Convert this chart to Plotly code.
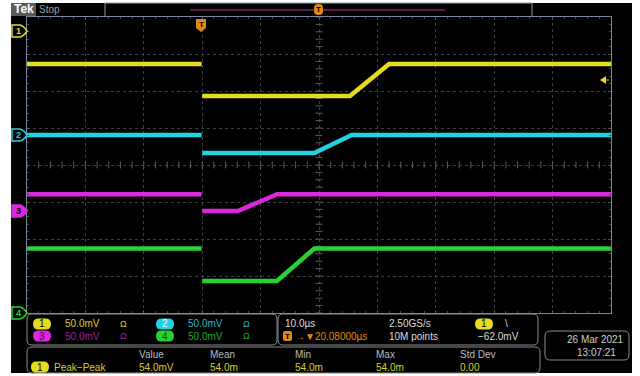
import plotly.graph_objects as go
import numpy as np

# ---- acquisition data (time in µs relative to screen centre, levels in mV on screen scale) ----
ch1_time = [-50, -20.1, None, -20.0, 5.3, 12.0, 50]
ch1_mv = [136.5, 136.5, None, 93.2, 93.2, 136.5, 136.5]

ch2_time = [-50, -20.1, None, -20.0, -0.8, 5.6, 50]
ch2_mv = [40.5, 40.5, None, 16.2, 16.2, 40.5, 40.5]

ch3_time = [-50, -20.1, None, -20.0, -13.9, -7.2, 50]
ch3_mv = [-39.6, -39.6, None, -62.2, -62.2, -39.6, -39.6]

ch4_time = [-50, -20.1, None, -20.0, -7.2, -0.8, 50]
ch4_mv = [-112.8, -112.8, None, -156.8, -156.8, -112.8, -112.8]

channel_names = ["1", "2", "3", "4"]
channel_colors = ["#e6dc1e", "#22d2e0", "#dc28dc", "#28d232"]
channel_dim = ["#d8d020", "#20b8c8", "#a81ca8", "#20a82a"]
channel_scale = ["50.0mV", "50.0mV", "50.0mV", "50.0mV"]
channel_ground_px = [31, 135, 211, 313]

time_per_div = "10.0µs"
sample_rate = "2.50GS/s"
record_len = "10M points"
trigger_pos = "→▼20.08000µs"
trigger_level = "−62.0mV"

meas_headers = ["Value", "Mean", "Min", "Max", "Std Dev"]
meas_values = ["54.0mV", "54.0m", "54.0m", "54.0m", "0.00"]
meas_name = "Peak−Peak"

date_text = "26 Mar 2021"
time_text = "13:07:21"

FONT = "Liberation Sans"

# plot area in pixels: x 27..611, y 17..313
def X(px):
    return (px - 27) / 584.0

def Y(py):
    return (313 - py) / 296.0

def rrect(x0, y0, x1, y1, r):
    return (f"M {X(x0 + r)},{Y(y0)} L {X(x1 - r)},{Y(y0)} Q {X(x1)},{Y(y0)} {X(x1)},{Y(y0 + r)} "
            f"L {X(x1)},{Y(y1 - r)} Q {X(x1)},{Y(y1)} {X(x1 - r)},{Y(y1)} "
            f"L {X(x0 + r)},{Y(y1)} Q {X(x0)},{Y(y1)} {X(x0)},{Y(y1 - r)} "
            f"L {X(x0)},{Y(y0 + r)} Q {X(x0)},{Y(y0)} {X(x0 + r)},{Y(y0)} Z")

shapes = []
annotations = []

def add_path(path, line=None, fill=None, width=1, layer="above"):
    shapes.append(dict(type="path", xref="paper", yref="paper", path=path,
                       line=dict(color=line or "rgba(0,0,0,0)", width=width if line else 0),
                       fillcolor=fill or "rgba(0,0,0,0)", layer=layer))

def add_rect(x0, y0, x1, y1, line=None, fill=None, width=1, layer="above"):
    shapes.append(dict(type="rect", xref="paper", yref="paper",
                       x0=X(x0), x1=X(x1), y0=Y(y1), y1=Y(y0),
                       line=dict(color=line or "rgba(0,0,0,0)", width=width if line else 0),
                       fillcolor=fill or "rgba(0,0,0,0)", layer=layer))

def add_line(x0, y0, x1, y1, color, width=1):
    shapes.append(dict(type="line", xref="paper", yref="paper",
                       x0=X(x0), x1=X(x1), y0=Y(y0), y1=Y(y1),
                       line=dict(color=color, width=width), layer="above"))

def text(x, y, s, color, size=10, anchor="left", bold=False):
    annotations.append(dict(xref="paper", yref="paper", x=X(x), y=Y(y), text=f"<b>{s}</b>" if bold else s,
                            showarrow=False, xanchor=anchor, yanchor="middle",
                            font=dict(family=FONT, size=size, color=color)))

def pill(xc, yc, label, color, w=18, h=11, txt="#000000"):
    add_path(rrect(xc - w / 2, yc - h / 2, xc + w / 2, yc + h / 2, h / 2), fill=color)
    text(xc, yc, label, txt, size=10, anchor="center")

# screen background
add_rect(11, 3, 632, 373, fill="#000000", layer="below")

# header
add_rect(11, 3, 36, 16, fill="#5a5a5a")
text(12, 9.5, "Tek", "#ffffff", size=12, bold=True)
text(37, 9.5, "Stop", "#a0a0a0", size=10)
add_path(f"M {X(105)},{Y(17)} L {X(105)},{Y(3)} L {X(532)},{Y(3)} L {X(532)},{Y(17)}", line="#8a9ab0", width=1)
add_line(190, 10, 445, 10, "#5c1b4f", width=2)
add_path(rrect(314, 4, 323, 15, 4), fill="#e08a10")
text(318.5, 9.5, "T", "#000000", size=8, anchor="center", bold=True)

# trigger position marker
add_path(f"M {X(196)},{Y(19)} L {X(206)},{Y(19)} L {X(206)},{Y(28)} L {X(201)},{Y(32)} L {X(196)},{Y(28)} Z", fill="#e08a10")
text(201, 24.5, "T", "#000000", size=8, anchor="center", bold=True)

# trigger level arrow on the right edge
add_path(f"M {X(600)},{Y(80)} L {X(606)},{Y(76)} L {X(606)},{Y(84)} Z", fill="#e6dc1e")
add_line(606, 80, 609, 80, "#e6dc1e", width=1)

# channel ground markers
for name, col, gy in zip(channel_names, channel_colors, channel_ground_px):
    filled = name == "3"
    p = (f"M {X(12)},{Y(gy - 6)} L {X(20)},{Y(gy - 6)} Q {X(24)},{Y(gy - 5)} {X(27)},{Y(gy)} "
         f"Q {X(24)},{Y(gy + 5)} {X(20)},{Y(gy + 6)} L {X(12)},{Y(gy + 6)} Z")
    add_path(p, line=col, fill=col if filled else "#000000", width=1.5)
    text(18, gy, name, "#000000" if filled else col, size=9, anchor="center", bold=True)

# channel settings panel
add_path(rrect(27, 314, 277, 345, 5), line="#8c8c8c", fill="#000000")
rows = [(324, 0), (324, 1), (336, 2), (336, 3)]
pill_txt = ["#000000", "#e8ffff", "#5a005a", "#0a4a10"]
for (ry, i) in rows:
    col_x = 42 if i in (0, 2) else 165
    pill(col_x, ry, channel_names[i], channel_colors[i], txt=pill_txt[i])
    text(col_x + 21, ry, channel_scale[i], channel_dim[i])
    text(col_x + 76, ry, "Ω", channel_dim[i], size=9)

# horizontal / trigger panel
add_path(rrect(278, 314, 538, 345, 5), line="#8c8c8c", fill="#000000")
text(283, 324, time_per_div, "#dcdcdc")
text(387, 324, sample_rate, "#dcdcdc")
pill(484, 324, "1", channel_colors[0])
text(503, 324, "\\", "#dcdcdc")
add_path(rrect(283, 331, 292, 341, 2), fill="#e08a10")
text(287.5, 336, "T", "#000000", size=8, anchor="center", bold=True)
text(293, 336, trigger_pos, "#e08a10")
text(387, 336, record_len, "#dcdcdc")
text(476, 336, trigger_level, "#dcdcdc")

# measurement panel
add_path(rrect(27, 347, 540, 373, 5), line="#8c8c8c", fill="#000000")
hdr_x = [137, 208, 293, 374, 458]
for hx, h, v in zip(hdr_x, meas_headers, meas_values):
    text(hx, 354, h, "#bdbdbd")
    text(hx, 367, v, channel_dim[0])
pill(40, 367, "1", channel_colors[0])
text(52, 367, meas_name, channel_dim[0])

# date panel
add_path(rrect(545, 331, 629, 360, 5), line="#8c8c8c", fill="#000000")
text(626, 339, date_text, "#d0d0d0", anchor="right")
text(575, 352, time_text, "#d0d0d0")

fig = go.Figure()

# graticule centre-line ticks
tx = np.arange(-50, 50.01, 2)
ty = np.arange(-200, 200.01, 10)
fig.add_trace(go.Scatter(x=tx, y=np.zeros_like(tx), mode="markers", hoverinfo="skip",
                         marker=dict(symbol="line-ns", size=5, line=dict(color="#5e5e5e", width=1)),
                         showlegend=False))
fig.add_trace(go.Scatter(x=np.zeros_like(ty), y=ty, mode="markers", hoverinfo="skip",
                         marker=dict(symbol="line-ew", size=5, line=dict(color="#5e5e5e", width=1)),
                         showlegend=False))

for name, col, t, v in zip(channel_names, channel_colors,
                           [ch1_time, ch2_time, ch3_time, ch4_time],
                           [ch1_mv, ch2_mv, ch3_mv, ch4_mv]):
    fig.add_trace(go.Scatter(x=t, y=v, mode="lines", name=name, connectgaps=False,
                             line=dict(color=col, width=4.5), showlegend=False))

fig.update_layout(
    width=640, height=376,
    margin=dict(l=27, r=29, t=17, b=63),
    paper_bgcolor="#ffffff",
    plot_bgcolor="#000000",
    shapes=shapes,
    annotations=annotations,
    showlegend=False,
)
fig.update_xaxes(range=[-50, 50], dtick=10, showticklabels=False, zeroline=False,
                 showgrid=True, gridcolor="#3e3e3e", griddash="dot", gridwidth=1,
                 showline=True, linecolor="#7888a0", linewidth=1, mirror="allticks",
                 ticks="inside", ticklen=3, tickcolor="#555555",
                 minor=dict(dtick=2, ticks="inside", ticklen=2, tickcolor="#484848"))
fig.update_yaxes(range=[-200, 200], dtick=50, showticklabels=False, zeroline=False,
                 showgrid=True, gridcolor="#3e3e3e", griddash="dot", gridwidth=1,
                 showline=True, linecolor="#7888a0", linewidth=1, mirror="allticks",
                 ticks="inside", ticklen=3, tickcolor="#555555",
                 minor=dict(dtick=10, ticks="inside", ticklen=2, tickcolor="#484848"))

fig.write_html("out.html")
